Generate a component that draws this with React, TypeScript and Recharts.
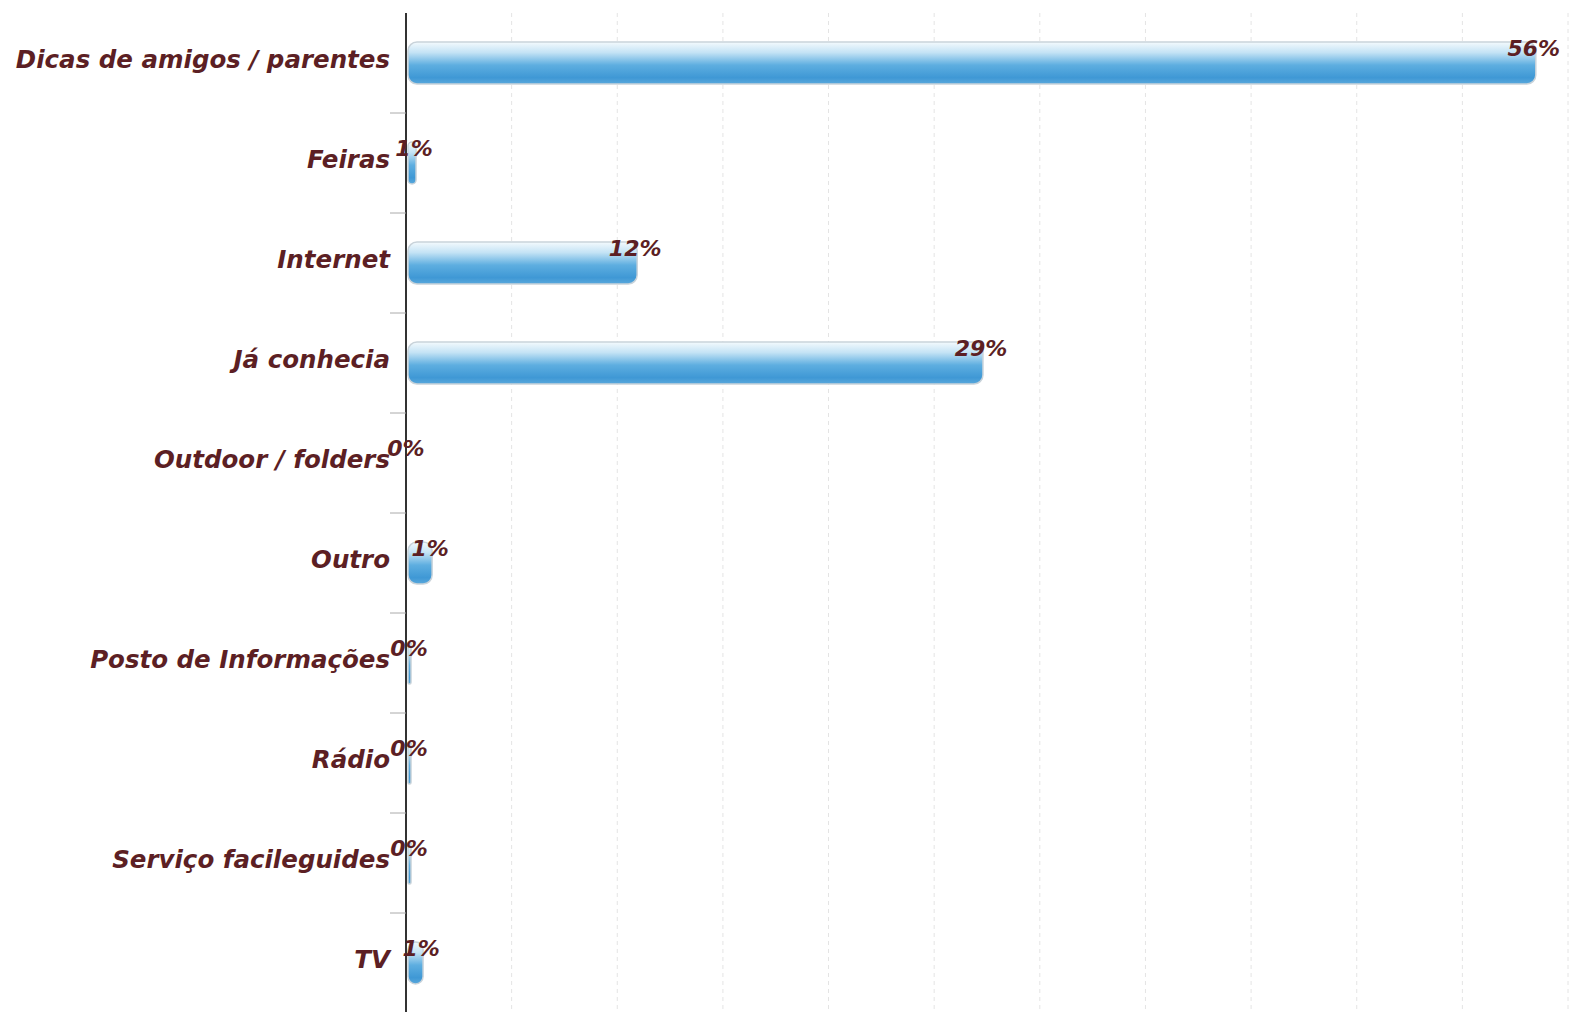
import { BarChart, Bar, XAxis, YAxis, CartesianGrid, LabelList } from 'recharts'

const categories = [
  'Dicas de amigos / parentes',
  'Feiras',
  'Internet',
  'Já conhecia',
  'Outdoor / folders',
  'Outro',
  'Posto de Informações',
  'Rádio',
  'Serviço facileguides',
  'TV',
]
const values = [56.1, 0.4, 11.4, 28.6, 0, 1.2, 0.15, 0.15, 0.15, 0.75]
const valueLabels = ['56%', '1%', '12%', '29%', '0%', '1%', '0%', '0%', '0%', '1%']
const xMax = 57.8
const gridSteps = 11

const data = categories.map((name, i) => ({ name, value: values[i], label: valueLabels[i] }))

const W = 1573
const H = 1013
const TOP = 13
const BAND = (H - TOP) / categories.length
const TEXT = '#5c1f24'
const FONT = '"DejaVu Sans", Verdana, sans-serif'

function CategoryTick(props: any) {
  const { x, y, payload, index } = props
  return (
    <g>
      {index > 0 && <line x1={x - 8} x2={x + 8} y1={y - BAND / 2} y2={y - BAND / 2} stroke="#aaa" strokeWidth={1} />}
      <text
        x={x - 8}
        y={y + 5}
        textAnchor="end"
        fill={TEXT}
        fontFamily={FONT}
        fontSize={24.5}
        fontWeight="bold"
        fontStyle="italic"
      >
        {payload.value}
      </text>
    </g>
  )
}

function ValueLabel(props: any) {
  const { x, y, width, value } = props
  return (
    <text
      x={x + width}
      y={y + 14}
      textAnchor="middle"
      fill={TEXT}
      fontFamily={FONT}
      fontSize={22}
      fontWeight="bold"
      fontStyle="italic"
    >
      {value}
    </text>
  )
}

function GlossyBar(props: any) {
  const { x, y, width, height } = props
  if (!width || width <= 0) return null
  const r = Math.min(9, width / 2)
  return (
    <rect
      x={x + 2}
      y={y}
      width={width}
      height={height}
      rx={r}
      ry={r}
      fill="url(#barGrad)"
      stroke="#c9d3da"
      strokeWidth={1.5}
    />
  )
}

export default function App() {
  const ticks = Array.from({ length: gridSteps + 1 }, (_, i) => (i * xMax) / gridSteps)
  return (
    <div style={{ position: 'absolute', left: 0, top: 0, width: W, height: 1012, overflow: 'hidden', background: '#fff' }}>
      <BarChart
        width={W}
        height={H}
        data={data}
        layout="vertical"
        margin={{ top: TOP, right: 5, bottom: 0, left: 0 }}
        barCategoryGap={0}
      >
        <defs>
          <linearGradient id="barGrad" x1="0" y1="0" x2="0" y2="1">
            <stop offset="0%" stopColor="#f4fafd" />
            <stop offset="25%" stopColor="#c4e3f5" />
            <stop offset="55%" stopColor="#5eaee0" />
            <stop offset="85%" stopColor="#3f98d5" />
            <stop offset="100%" stopColor="#5aa8dc" />
          </linearGradient>
        </defs>
        <CartesianGrid horizontal={false} stroke="#e4e4e4" strokeDasharray="4 4" />
        <XAxis type="number" domain={[0, xMax]} ticks={ticks} interval={0} hide />
        <YAxis
          type="category"
          dataKey="name"
          width={406}
          axisLine={{ stroke: '#333', strokeWidth: 2 }}
          tickLine={false}
          tick={<CategoryTick />}
          interval={0}
        />
        <Bar dataKey="value" barSize={42} shape={<GlossyBar />} isAnimationActive={false}>
          <LabelList dataKey="label" content={<ValueLabel />} />
        </Bar>
      </BarChart>
    </div>
  )
}
